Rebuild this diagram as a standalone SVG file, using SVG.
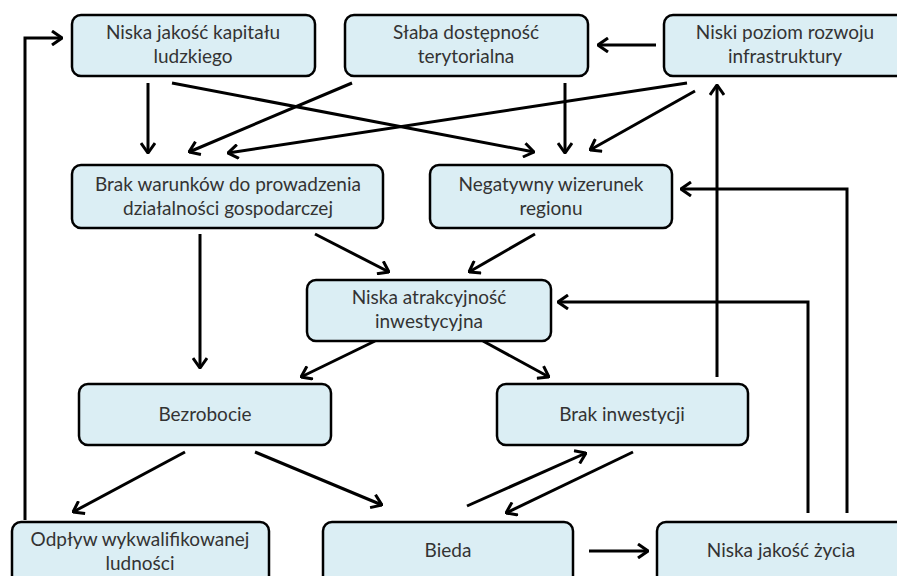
<svg xmlns="http://www.w3.org/2000/svg" width="897" height="576" viewBox="0 0 897 576">
<defs>
<style>
.box{fill:#DBEEF4;stroke:#000;stroke-width:2.5}
.t{font-family:Lato,"Open Sans","Liberation Sans",sans-serif;font-size:19px;fill:#333;text-anchor:middle}
.c{fill:none;stroke:#000;stroke-width:3;marker-end:url(#ah)}
</style>
<marker id="ah" viewBox="0 0 12 16" refX="11" refY="8" markerWidth="12" markerHeight="16" markerUnits="userSpaceOnUse" orient="auto">
<path d="M1,1 L11,8 L1,15" fill="none" stroke="#000" stroke-width="3"/>
</marker>
</defs>
<rect width="897" height="576" fill="#fff"/>
<g id="connectors">
<polyline class="c" points="25,520 25,38 62,38"/>
<line class="c" x1="656" y1="45" x2="598" y2="45"/>
<line class="c" x1="148" y1="83" x2="148" y2="153"/>
<line class="c" x1="172" y1="83" x2="534" y2="152"/>
<line class="c" x1="352" y1="83" x2="189" y2="152"/>
<line class="c" x1="687" y1="83" x2="228" y2="153"/>
<line class="c" x1="565" y1="83" x2="565" y2="153"/>
<line class="c" x1="695" y1="91" x2="590" y2="150"/>
<line class="c" x1="717" y1="377" x2="717" y2="85"/>
<line class="c" x1="200" y1="234" x2="200" y2="368"/>
<line class="c" x1="315" y1="234" x2="389" y2="272"/>
<line class="c" x1="535" y1="234" x2="469" y2="272"/>
<line class="c" x1="375" y1="341" x2="301" y2="377"/>
<line class="c" x1="483" y1="341" x2="549" y2="377"/>
<polyline class="c" points="847,513 847,189 681,189"/>
<polyline class="c" points="808,513 808,302 558,302"/>
<line class="c" x1="185" y1="452" x2="73" y2="512"/>
<line class="c" x1="255" y1="452" x2="382" y2="505"/>
<line class="c" x1="467" y1="506" x2="586" y2="453"/>
<line class="c" x1="633" y1="452" x2="506" y2="513"/>
<line class="c" x1="589" y1="551" x2="648" y2="551"/>
</g>
<g id="n1"><rect class="box" x="72" y="15" width="243" height="61" rx="9"/><text class="t" x="193" y="39">Niska jakość kapitału</text><text class="t" x="193" y="63">ludzkiego</text></g>
<g id="n2"><rect class="box" x="345" y="15" width="243" height="61" rx="9"/><text class="t" x="466" y="39">Słaba dostępność</text><text class="t" x="466" y="63">terytorialna</text></g>
<g id="n3"><rect class="box" x="664" y="15" width="242" height="61" rx="9"/><text class="t" x="785" y="39">Niski poziom rozwoju</text><text class="t" x="785" y="63">infrastruktury</text></g>
<g id="n4"><rect class="box" x="72" y="165" width="311" height="63" rx="9"/><text class="t" x="228" y="191">Brak warunków do prowadzenia</text><text class="t" x="228" y="215">działalności gospodarczej</text></g>
<g id="n5"><rect class="box" x="430" y="165" width="242" height="63" rx="9"/><text class="t" x="551" y="191">Negatywny wizerunek</text><text class="t" x="551" y="215">regionu</text></g>
<g id="n6"><rect class="box" x="307" y="280" width="244" height="61" rx="9"/><text class="t" x="429" y="304">Niska atrakcyjność</text><text class="t" x="429" y="328">inwestycyjna</text></g>
<g id="n7"><rect class="box" x="79" y="384" width="252" height="61" rx="9"/><text class="t" x="205" y="421">Bezrobocie</text></g>
<g id="n8"><rect class="box" x="497" y="384" width="251" height="61" rx="9"/><text class="t" x="622" y="421">Brak inwestycji</text></g>
<g id="n9"><rect class="box" x="12" y="522" width="257" height="64" rx="9"/><text class="t" x="140" y="546">Odpływ wykwalifikowanej</text><text class="t" x="140" y="570">ludności</text></g>
<g id="n10"><rect class="box" x="323" y="522" width="250" height="64" rx="9"/><text class="t" x="448" y="557">Bieda</text></g>
<g id="n11"><rect class="box" x="657" y="522" width="250" height="64" rx="9"/><text class="t" x="781" y="557">Niska jakość życia</text></g>
</svg>
